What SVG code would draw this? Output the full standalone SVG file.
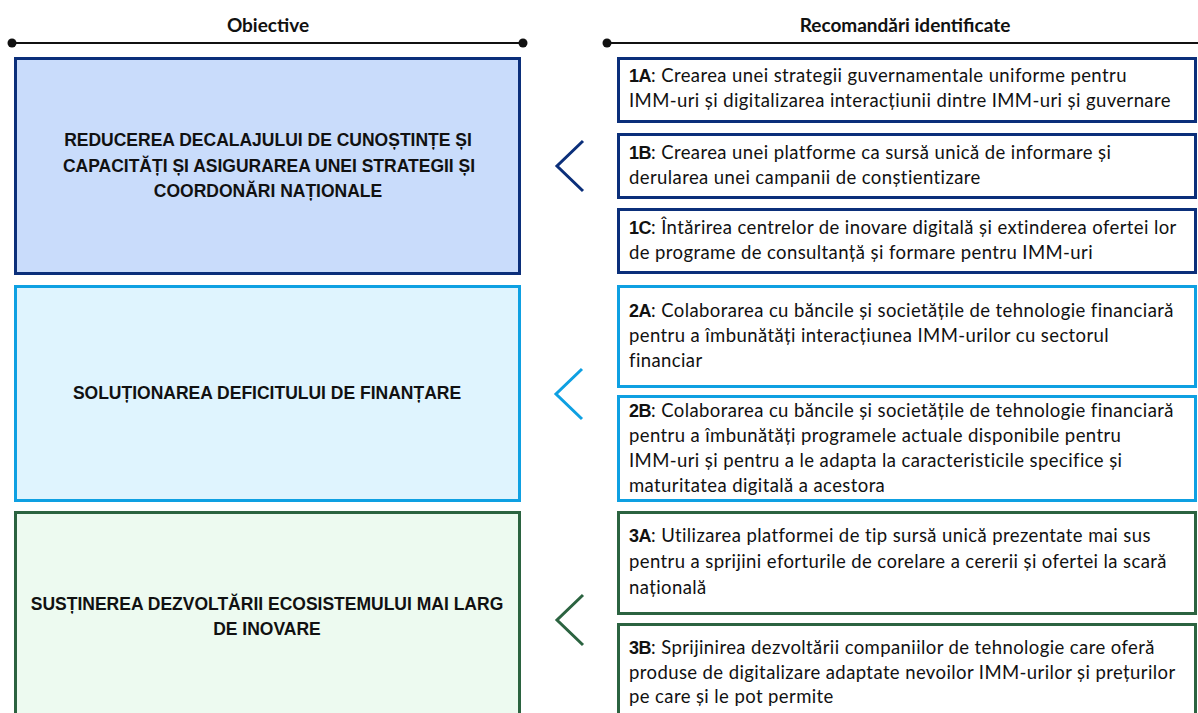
<svg xmlns="http://www.w3.org/2000/svg" width="1198" height="713" viewBox="0 0 1198 713">
<style>
.hdr{font-family:Lato,"Liberation Sans",sans-serif;font-weight:bold;font-size:19px;fill:#111;text-anchor:middle}
.obj{font-family:"Liberation Sans",Arial,sans-serif;font-weight:bold;font-size:17.5px;fill:#111;text-anchor:middle}
.rec{font-family:Lato,"Liberation Sans",sans-serif;font-size:18.5px;letter-spacing:0.4px;fill:#111}
.lbl{font-family:"Liberation Sans",sans-serif;font-weight:bold;font-size:18px;letter-spacing:-0.5px}
.g1{stroke:#0b2f7a}
.g2{stroke:#0ea0e2}
.g3{stroke:#2b6340}
rect{stroke-width:3}
.chev{fill:none;stroke-width:3}
</style>
<rect width="1198" height="713" fill="#fff" stroke="none"/>
<g id="headers">
<line x1="12" y1="43" x2="523" y2="43" stroke="#111" stroke-width="2"/>
<circle cx="12" cy="43" r="4.5" fill="#111"/>
<circle cx="523" cy="43" r="4.5" fill="#111"/>
<text class="hdr" x="268" y="32">Obiective</text>
<line x1="607" y1="43" x2="1198" y2="43" stroke="#111" stroke-width="2"/>
<circle cx="607" cy="43" r="4.5" fill="#111"/>
<text class="hdr" x="905" y="32">Recomandări identificate</text>
</g>
<g id="obj1">
<rect class="g1" x="15.5" y="58.5" width="504" height="215" fill="#c9dcfb"/>
<text class="obj" x="268" y="146">REDUCEREA DECALAJULUI DE CUNOȘTINȚE ȘI</text>
<text class="obj" x="269" y="172">CAPACITĂȚI ȘI ASIGURAREA UNEI STRATEGII ȘI</text>
<text class="obj" x="268" y="197">COORDONĂRI NAȚIONALE</text>
</g>
<g id="obj2">
<rect class="g2" x="15.5" y="286.5" width="504" height="214" fill="#dff4fe"/>
<text class="obj" x="267" y="399">SOLUȚIONAREA DEFICITULUI DE FINANȚARE</text>
</g>
<g id="obj3">
<rect class="g3" x="15.5" y="512.5" width="504" height="210" fill="#edfaf0"/>
<text class="obj" x="267" y="610">SUSȚINEREA DEZVOLTĂRII ECOSISTEMULUI MAI LARG</text>
<text class="obj" x="267" y="635">DE INOVARE</text>
</g>
<g id="connectors">
<polyline class="chev g1" points="583,141 557,166 583,191"/>
<polyline class="chev g2" points="582,369 556,394 582,419"/>
<polyline class="chev g3" points="583,595 557,620 583,645"/>
</g>
<g id="rec1A">
<rect class="g1" x="618.5" y="58.5" width="577" height="63" fill="#fff"/>
<text class="rec" x="629" y="82"><tspan class="lbl">1A</tspan>: Crearea unei strategii guvernamentale uniforme pentru</text>
<text class="rec" x="629" y="107">IMM-uri și digitalizarea interacțiunii dintre IMM-uri și guvernare</text>
</g>
<g id="rec1B">
<rect class="g1" x="618.5" y="134.5" width="577" height="63" fill="#fff"/>
<text class="rec" x="629" y="159"><tspan class="lbl">1B</tspan>: Crearea unei platforme ca sursă unică de informare și</text>
<text class="rec" x="629" y="184">derularea unei campanii de conștientizare</text>
</g>
<g id="rec1C">
<rect class="g1" x="618.5" y="209.5" width="577" height="63" fill="#fff"/>
<text class="rec" x="629" y="234"><tspan class="lbl">1C</tspan>: Întărirea centrelor de inovare digitală și extinderea ofertei lor</text>
<text class="rec" x="629" y="259">de programe de consultanță și formare pentru IMM-uri</text>
</g>
<g id="rec2A">
<rect class="g2" x="618.5" y="286.5" width="577" height="100" fill="#fff"/>
<text class="rec" x="629" y="317"><tspan class="lbl">2A</tspan>: Colaborarea cu băncile și societățile de tehnologie financiară</text>
<text class="rec" x="629" y="342">pentru a îmbunătăți interacțiunea IMM-urilor cu sectorul</text>
<text class="rec" x="629" y="367">financiar</text>
</g>
<g id="rec2B">
<rect class="g2" x="618.5" y="396.5" width="577" height="104" fill="#fff"/>
<text class="rec" x="629" y="417"><tspan class="lbl">2B</tspan>: Colaborarea cu băncile și societățile de tehnologie financiară</text>
<text class="rec" x="629" y="442">pentru a îmbunătăți programele actuale disponibile pentru</text>
<text class="rec" x="629" y="467">IMM-uri și pentru a le adapta la caracteristicile specifice și</text>
<text class="rec" x="629" y="492">maturitatea digitală a acestora</text>
</g>
<g id="rec3A">
<rect class="g3" x="618.5" y="512.5" width="577" height="101" fill="#fff"/>
<text class="rec" x="629" y="542"><tspan class="lbl">3A</tspan>: Utilizarea platformei de tip sursă unică prezentate mai sus</text>
<text class="rec" x="629" y="568">pentru a sprijini eforturile de corelare a cererii și ofertei la scară</text>
<text class="rec" x="629" y="594">națională</text>
</g>
<g id="rec3B">
<rect class="g3" x="618.5" y="624.5" width="577" height="100" fill="#fff"/>
<text class="rec" x="629" y="654"><tspan class="lbl">3B</tspan>: Sprijinirea dezvoltării companiilor de tehnologie care oferă</text>
<text class="rec" x="629" y="679">produse de digitalizare adaptate nevoilor IMM-urilor și prețurilor</text>
<text class="rec" x="629" y="703">pe care și le pot permite</text>
</g>
</svg>
